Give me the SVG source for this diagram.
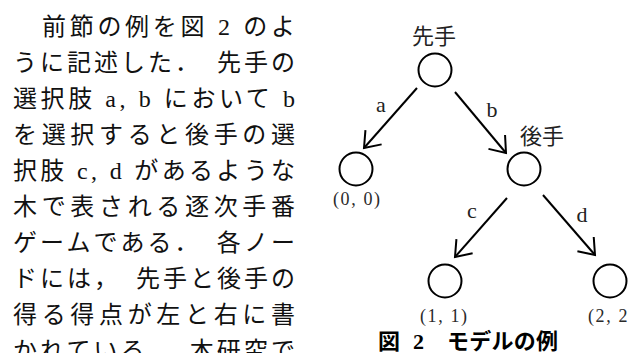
<svg xmlns="http://www.w3.org/2000/svg" width="628" height="353" viewBox="0 0 628 353">
<style>
.body{font-family:"Liberation Serif","Noto Sans CJK JP",serif;font-size:24px;fill:#111}
.lbl{font-family:"Liberation Serif","Noto Sans CJK JP",serif;font-size:22px;fill:#222;text-anchor:middle}
.pay{font-family:"Liberation Serif","Noto Sans CJK JP",serif;font-size:18px;fill:#2a2a2a}
.cap{font-family:"Liberation Serif","Noto Sans CJK JP",serif;font-size:22px;font-weight:bold;fill:#000}
.node{fill:#fff;stroke:#000;stroke-width:2}
.edge{stroke:#000;stroke-width:2;fill:none}
</style>
<defs>
<marker id="arr" markerUnits="userSpaceOnUse" viewBox="-16 -12 18 24" markerWidth="18" markerHeight="24" refX="0" refY="0" orient="auto" overflow="visible">
<path d="M-14.4,-10.8 L0,0 L-14.4,10.8" fill="none" stroke="#000" stroke-width="2"/>
</marker>
</defs>
<rect width="628" height="353" fill="#fff"/>
<g id="bodytext">
<text class="body" x="42" y="35" textLength="253" lengthAdjust="spacing">前節の例を図 2 のよ</text>
<text class="body" x="13" y="71" textLength="282" lengthAdjust="spacing">うに記述した．　先手の</text>
<text class="body" x="13" y="107" textLength="282" lengthAdjust="spacing">選択肢 a, b において b</text>
<text class="body" x="13" y="143" textLength="282" lengthAdjust="spacing">を選択すると後手の選</text>
<text class="body" x="13" y="179" textLength="282" lengthAdjust="spacing">択肢 c, d があるような</text>
<text class="body" x="13" y="215" textLength="282" lengthAdjust="spacing">木で表される逐次手番</text>
<text class="body" x="13" y="251" textLength="282" lengthAdjust="spacing">ゲームである．　各ノー</text>
<text class="body" x="13" y="287" textLength="282" lengthAdjust="spacing">ドには，　先手と後手の</text>
<text class="body" x="13" y="323" textLength="282" lengthAdjust="spacing">得る得点が左と右に書</text>
<text class="body" x="13" y="359" textLength="282" lengthAdjust="spacing">かれている．　本研究で</text>
</g>
<g id="connectors">
<line class="edge" x1="417" y1="88" x2="364" y2="148" marker-end="url(#arr)"/>
<line class="edge" x1="455" y1="92" x2="506" y2="153" marker-end="url(#arr)"/>
<line class="edge" x1="507" y1="198" x2="455" y2="257" marker-end="url(#arr)"/>
<line class="edge" x1="543" y1="195" x2="595" y2="255" marker-end="url(#arr)"/>
<text class="lbl" x="381" y="112">a</text>
<text class="lbl" x="492" y="117">b</text>
<text class="lbl" x="472" y="218">c</text>
<text class="lbl" x="582" y="222">d</text>
</g>
<g id="root">
<circle class="node" cx="435" cy="70" r="16.5"/>
<text class="lbl" x="434" y="44">先手</text>
</g>
<g id="leafA">
<circle class="node" cx="356" cy="169" r="16.5"/>
<text class="pay" x="333" y="205" textLength="47" lengthAdjust="spacing">(0, 0)</text>
</g>
<g id="second">
<circle class="node" cx="524" cy="169" r="16.5"/>
<text class="lbl" x="542" y="144">後手</text>
</g>
<g id="leafC">
<circle class="node" cx="445" cy="281" r="16.5"/>
<text class="pay" x="420" y="322" textLength="47" lengthAdjust="spacing">(1, 1)</text>
</g>
<g id="leafD">
<circle class="node" cx="610" cy="281" r="16.5"/>
<text class="pay" x="588" y="322" textLength="47" lengthAdjust="spacing">(2, 2)</text>
</g>
<g id="caption">
<text class="cap" x="378" y="349">図</text>
<text class="cap" x="413" y="349">2</text>
<text class="cap" x="447" y="349" textLength="111" lengthAdjust="spacing">モデルの例</text>
</g>
</svg>
